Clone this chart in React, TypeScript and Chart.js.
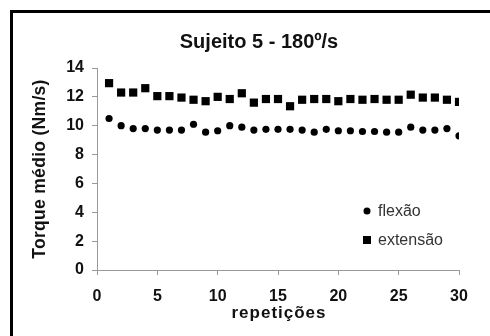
import { useEffect, useRef } from "react";
import { Chart, registerables } from "chart.js";

Chart.register(...registerables);

const repetitions = [
  1, 2, 3, 4, 5, 6, 7, 8, 9, 10, 11, 12, 13, 14, 15, 16, 17, 18, 19, 20, 21, 22, 23, 24, 25, 26, 27, 28, 29, 30,
];
const flexao = [
  10.5, 10.0, 9.8, 9.8, 9.7, 9.7, 9.7, 10.1, 9.55, 9.65, 10.0, 9.9, 9.7, 9.75, 9.75, 9.75, 9.7, 9.55, 9.75, 9.65,
  9.65, 9.6, 9.6, 9.55, 9.55, 9.9, 9.7, 9.7, 9.8, 9.3,
];
const extensao = [
  12.95, 12.3, 12.3, 12.6, 12.05, 12.05, 11.95, 11.8, 11.7, 12.0, 11.85, 12.25, 11.6, 11.85, 11.85, 11.35, 11.8,
  11.85, 11.85, 11.7, 11.85, 11.8, 11.85, 11.8, 11.8, 12.15, 11.95, 11.95, 11.8, 11.65,
];
const xTicks = [0, 5, 10, 15, 20, 25, 30];
const yTicks = [0, 2, 4, 6, 8, 10, 12, 14];
const chartTitle = "Sujeito 5 - 180º/s";
const xTitle = "repetições";
const yTitle = "Torque médio (Nm/s)";
const seriesNames = ["flexão", "extensão"];

const FONT = "'Liberation Sans', Arial, sans-serif";

export default function App() {
  const ref = useRef<HTMLCanvasElement>(null);

  useEffect(() => {
    const canvas = ref.current;
    if (!canvas) return;

    const decor = {
      id: "decor",
      afterDraw(chart: any) {
        const ctx = chart.ctx as CanvasRenderingContext2D;
        const area = chart.chartArea;
        ctx.save();
        // frame
        ctx.fillStyle = "#000";
        ctx.fillRect(10, 10, 480, 3);
        ctx.fillRect(10, 10, 3, 326);

        // title
        ctx.fillStyle = "#111";
        ctx.textAlign = "center";
        ctx.textBaseline = "alphabetic";
        ctx.font = `bold 20px ${FONT}`;
        ctx.fillText(chartTitle, 259, 48);

        // x title
        ctx.font = `bold 17px ${FONT}`;
        (ctx as any).letterSpacing = "1px";
        ctx.fillText(xTitle, (area.left + area.right) / 2 + 1, 318);

        // y title
        ctx.font = `bold 17.5px ${FONT}`;
        (ctx as any).letterSpacing = "0.3px";
        ctx.save();
        ctx.translate(40, (area.top + area.bottom) / 2);
        ctx.rotate(-Math.PI / 2);
        ctx.textBaseline = "middle";
        ctx.fillText(yTitle, 0, 0);
        ctx.restore();
        (ctx as any).letterSpacing = "0px";

        // legend
        ctx.font = `16px ${FONT}`;
        ctx.textAlign = "left";
        ctx.textBaseline = "middle";
        ctx.fillStyle = "#000";
        ctx.beginPath();
        ctx.arc(367, 211, 3.5, 0, Math.PI * 2);
        ctx.fill();
        ctx.fillRect(363, 236, 8, 8);
        ctx.fillStyle = "#333";
        ctx.fillText(seriesNames[0], 378, 212);
        ctx.fillText(seriesNames[1], 378, 241);
        ctx.restore();
      },
    };

    const chart = new Chart(canvas, {
      type: "scatter",
      data: {
        datasets: [
          {
            label: seriesNames[0],
            data: repetitions.map((r, i) => ({ x: r, y: flexao[i] })),
            pointStyle: "circle",
            pointRadius: 3.6,
            backgroundColor: "#000",
            borderColor: "#000",
            borderWidth: 0,
          },
          {
            label: seriesNames[1],
            data: repetitions.map((r, i) => ({ x: r, y: extensao[i] })),
            pointStyle: "rect",
            pointRadius: 5.8,
            backgroundColor: "#000",
            borderColor: "#000",
            borderWidth: 0,
          },
        ],
      },
      options: {
        animation: false,
        responsive: false,
        devicePixelRatio: 1,
        layout: { padding: { top: 68, right: 31, left: 0, bottom: 0 } },
        plugins: {
          legend: { display: false },
          title: { display: false },
          tooltip: { enabled: false },
        },
        scales: {
          x: {
            type: "linear",
            min: 0,
            max: 30,
            afterFit: (s: any) => {
              s.height = 66;
            },
            afterBuildTicks: (s: any) => {
              s.ticks = xTicks.map((v) => ({ value: v }));
            },
            grid: { display: true, drawOnChartArea: false, drawTicks: true, tickLength: 5, color: "#999" },
            border: { color: "#999", width: 1 },
            ticks: {
              padding: 12,
              maxRotation: 0,
              color: "#111",
              font: { family: FONT, size: 16, weight: "bold" },
            },
          },
          y: {
            type: "linear",
            min: 0,
            max: 14,
            afterFit: (s: any) => {
              s.width = 97;
            },
            afterBuildTicks: (s: any) => {
              s.ticks = yTicks.map((v) => ({ value: v }));
            },
            grid: { display: true, drawOnChartArea: false, drawTicks: true, tickLength: 5, color: "#999" },
            border: { color: "#999", width: 1 },
            ticks: {
              padding: 8,
              color: "#111",
              font: { family: FONT, size: 16, weight: "bold" },
            },
          },
        },
      },
      plugins: [decor],
    });

    return () => chart.destroy();
  }, []);

  return (
    <div style={{ position: "absolute", left: 0, top: 0, width: 490, height: 336, background: "#fff" }}>
      <canvas ref={ref} width={490} height={336} style={{ display: "block", width: 490, height: 336 }} />
    </div>
  );
}
